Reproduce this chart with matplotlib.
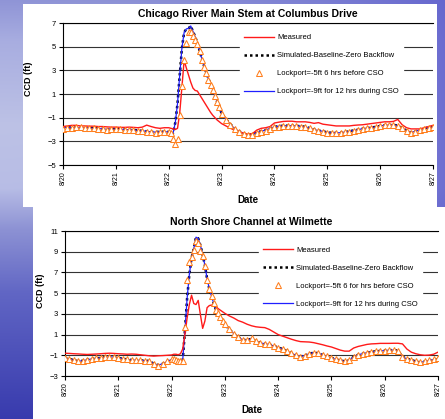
import matplotlib.pyplot as plt
import numpy as np
from matplotlib.patches import Rectangle

plt.rcParams['font.family'] = ['Liberation Sans', 'DejaVu Sans']

# time stamps, hours after 8/20 00:00 (2-hourly, hourly through the 8/22 event)
hours = list(range(0, 48, 2)) + list(range(48, 72)) + list(range(72, 169, 2))
day_labels = ['8/20', '8/21', '8/22', '8/23', '8/24', '8/25', '8/26', '8/27']

# --- Chicago River Main Stem at Columbus Drive ---
chi_measured = [
    -1.75, -1.7, -1.65, -1.65, -1.7, -1.7, -1.72, -1.72, -1.75, -1.75, -1.78, -1.8,
    -1.8, -1.82, -1.82, -1.8, -1.82, -1.85, -1.8, -1.63, -1.75, -1.85, -1.9, -1.85,
    -1.85, -1.9, -1.95, -2.0, -1.9, -0.6, 1.6, 3.85, 3.2, 2.6, 2.0, 1.5,
    1.3, 1.25, 0.95, 0.65, 0.35, 0.05, -0.25, -0.55, -0.8, -1.0, -1.2, -1.35,
    -1.5, -1.7, -1.9, -2.05, -2.2, -2.3, -2.4, -2.35, -2.05, -1.9, -1.85, -1.75,
    -1.45, -1.38, -1.32, -1.3, -1.3, -1.35, -1.35, -1.35, -1.4, -1.48, -1.42, -1.55,
    -1.6, -1.65, -1.7, -1.7, -1.7, -1.7, -1.65, -1.62, -1.6, -1.55, -1.5, -1.45,
    -1.4, -1.35, -1.35, -1.32, -1.15, -1.6, -1.85, -1.95, -1.95, -1.95, -1.85, -1.75,
    -1.65]
chi_baseline = [
    -1.8, -1.82, -1.85, -1.85, -1.85, -1.85, -1.88, -1.9, -1.92, -1.95, -1.98, -1.97,
    -1.97, -1.98, -2.0, -2.02, -2.03, -2.08, -2.12, -2.15, -2.2, -2.22, -2.18, -2.2,
    -2.2, -2.45, -2.3, -1.4, 0.2, 2.6, 4.9, 6.2, 6.5, 6.55, 6.75, 6.3,
    5.85, 5.3, 4.7, 4.0, 3.4, 2.85, 2.3, 1.85, 1.35, 0.85, 0.35, -0.05,
    -0.65, -1.15, -1.55, -1.95, -2.15, -2.35, -2.45, -2.4, -2.25, -2.15, -2.05, -1.9,
    -1.78, -1.72, -1.68, -1.68, -1.68, -1.7, -1.72, -1.78, -1.88, -2.0, -2.1, -2.15,
    -2.25, -2.28, -2.28, -2.27, -2.22, -2.15, -2.08, -2.02, -1.93, -1.88, -1.83, -1.78,
    -1.7, -1.64, -1.63, -1.6, -1.68, -1.88, -2.1, -2.25, -2.15, -2.02, -1.92, -1.82,
    -1.78]
chi_lock5 = [
    -1.95, -1.9, -1.85, -1.82, -1.82, -1.85, -1.88, -1.9, -1.95, -2.0, -2.04, -2.0,
    -1.99, -2.0, -2.02, -2.04, -2.05, -2.1, -2.15, -2.18, -2.25, -2.27, -2.2, -2.22,
    -2.2, -2.3, -2.8, -3.2, -2.8, -0.8, 1.7, 3.9, 5.3, 6.2, 6.2, 5.9,
    5.6, 5.2, 4.6, 3.9, 3.3, 2.8, 2.2, 1.8, 1.3, 0.8, 0.3, -0.1,
    -0.7, -1.2, -1.6, -2.0, -2.2, -2.4, -2.5, -2.45, -2.3, -2.2, -2.1, -1.95,
    -1.8, -1.75, -1.7, -1.7, -1.7, -1.72, -1.75, -1.8, -1.9, -2.05, -2.15, -2.2,
    -2.3, -2.3, -2.3, -2.3, -2.25, -2.2, -2.1, -2.05, -1.95, -1.9, -1.85, -1.8,
    -1.72, -1.65, -1.65, -1.62, -1.7, -1.9, -2.15, -2.3, -2.2, -2.05, -1.95, -1.85,
    -1.8]
chi_lock9 = list(chi_baseline)  # identical to the baseline run in the source chart

# --- North Shore Channel at Wilmette ---
nsc_measured = [
    -0.8, -0.82, -0.85, -0.87, -0.9, -0.92, -0.9, -0.88, -0.85, -0.82, -0.8, -0.82,
    -0.85, -0.87, -0.9, -0.88, -0.9, -0.95, -1.0, -1.05, -1.08, -1.05, -1.03, -1.0,
    -0.97, -0.9, -0.9, -0.95, -0.85, -0.4, 1.0, 2.6, 3.9, 4.8, 4.0, 3.9,
    4.3, 2.9, 1.6, 2.3, 3.6, 3.8, 3.85, 3.8, 3.7, 3.5, 3.35, 3.2,
    3.05, 2.8, 2.6, 2.35, 2.2, 2.0, 1.85, 1.75, 1.7, 1.67, 1.5, 1.25,
    1.0, 0.85, 0.7, 0.55, 0.42, 0.32, 0.3, 0.28, 0.22, 0.12, 0.02, -0.1,
    -0.2, -0.35, -0.5, -0.6, -0.6, -0.3, -0.15, -0.05, 0.05, 0.1, 0.12, 0.15,
    0.15, 0.15, 0.16, 0.16, 0.1, -0.4, -0.7, -0.85, -0.95, -1.0, -0.98, -0.9,
    -0.7]
nsc_baseline = [
    -1.3, -1.35, -1.48, -1.58, -1.53, -1.43, -1.35, -1.3, -1.25, -1.2, -1.15, -1.17,
    -1.25, -1.33, -1.4, -1.45, -1.48, -1.5, -1.52, -1.55, -1.82, -1.95, -1.82, -1.6,
    -1.4, -1.4, -1.5, -1.55, -1.6, -1.5, 1.3, 4.5, 6.8, 8.4, 9.3, 10.4,
    10.3, 9.6, 8.7, 7.7, 6.4, 5.4, 4.7, 4.0, 3.4, 3.1, 2.7, 2.3,
    2.0, 1.5, 1.1, 0.75, 0.5, 0.45, 0.6, 0.35, 0.2, 0.1, 0.05, -0.1,
    -0.25, -0.4, -0.6, -0.8, -1.0, -1.1, -1.05, -0.85, -0.75, -0.8, -0.95, -1.1,
    -1.25, -1.4, -1.5, -1.58, -1.5, -1.15, -0.95, -0.85, -0.75, -0.68, -0.62, -0.58,
    -0.55, -0.5, -0.5, -0.55, -1.15, -1.35, -1.45, -1.6, -1.68, -1.6, -1.5, -1.4,
    -1.4]
nsc_lock5 = [
    -1.29, -1.35, -1.5, -1.6, -1.55, -1.45, -1.36, -1.3, -1.25, -1.2, -1.13, -1.15,
    -1.25, -1.35, -1.4, -1.45, -1.48, -1.5, -1.52, -1.55, -1.85, -2.0, -1.85, -1.6,
    -1.4, -1.4, -1.5, -1.6, -1.55, -1.6, 1.7, 6.3, 8.0, 8.5, 9.2, 10.0,
    9.8, 9.1, 8.6, 7.6, 6.3, 5.4, 4.7, 4.0, 3.4, 3.1, 2.7, 2.3,
    2.0, 1.5, 1.1, 0.75, 0.5, 0.45, 0.65, 0.35, 0.2, 0.1, 0.05, -0.1,
    -0.25, -0.4, -0.6, -0.8, -1.0, -1.13, -1.05, -0.85, -0.75, -0.8, -0.95, -1.1,
    -1.25, -1.4, -1.5, -1.6, -1.5, -1.15, -0.95, -0.85, -0.75, -0.68, -0.62, -0.58,
    -0.55, -0.5, -0.5, -0.55, -1.2, -1.35, -1.45, -1.6, -1.68, -1.6, -1.5, -1.4,
    -1.3]
nsc_lock9 = list(nsc_baseline)

chi_labels = ['Measured', 'Simulated-Baseline-Zero Backflow',
              'Lockport=-5ft 6 hrs before CSO', 'Lockport=-9ft for 12 hrs during CSO']
nsc_labels = ['Measured', 'Simulated-Baseline-Zero Backflow',
              'Lockport=-5ft 6 for hrs before CSO', 'Lockport=-9ft for 12 hrs during CSO']

fig = plt.figure(figsize=(4.45, 4.19), dpi=100)

# slide background (blue water texture approximated by a gradient)
bg = fig.add_axes([0, 0, 1, 1])
H, W = 419, 445
yf = np.linspace(0, 1, H)
stops = [0, 0.1, 0.3, 0.45, 0.55, 0.7, 1.0]
cols = np.array([[0.56, 0.58, 0.84], [0.66, 0.68, 0.88], [0.74, 0.76, 0.90],
                 [0.72, 0.74, 0.90], [0.55, 0.57, 0.83], [0.38, 0.40, 0.77],
                 [0.22, 0.23, 0.68]])
left = np.stack([np.interp(yf, stops, cols[:, i]) for i in range(3)], axis=1)
w = (np.linspace(0, 1, W) ** 2 * 0.8)[None, :, None]
img = left[:, None, :] * (1 - w) + np.array([0.36, 0.36, 0.80])[None, None, :] * w
bg.imshow(img, extent=[0, 1, 0, 1], aspect='auto', origin='upper')
bg.add_patch(Rectangle((22.7 / W, 1 - 207 / H), (437 - 22.7) / W, 203 / H,
                       color='white', lw=0))
bg.add_patch(Rectangle((33 / W, 0), (445 - 33) / W, 1 - 207 / H + 0.001,
                       color='white', lw=0))
bg.set_xlim(0, 1)
bg.set_ylim(0, 1)
bg.axis('off')

days = np.array(hours) / 24.0


def draw_panel(ax, title, measured, baseline, lock5, lock9, labels, ylim, leg_anchor,
               ylab_pos, xlab_pos):
    l1, = ax.plot(days, measured, color='#FF1A1A', lw=1.0, zorder=5)
    l2, = ax.plot(days, baseline, color='black', lw=1.8, ls=(0, (1, 1.2)), zorder=3)
    l4, = ax.plot(days, lock9, color='#1F1FFF', lw=0.9, zorder=4)
    l3, = ax.plot(days, lock5, ls='none', marker='^', ms=4.2, mfc='white',
                  mec='#FF7F1E', mew=0.75, zorder=6)

    ax.set_xlim(0, 7)
    ax.set_ylim(*ylim)
    ax.set_yticks(np.arange(ylim[0], ylim[1] + 1, 2))
    ax.set_xticks(range(8))
    ax.set_xticklabels(day_labels, rotation=90)
    ax.tick_params(axis='y', labelsize=5.5, length=3, width=0.8, pad=2)
    ax.tick_params(axis='x', labelsize=5, length=3, width=0.8, pad=1.5)
    ax.set_axisbelow(True)
    ax.yaxis.grid(True, color='#333333', lw=0.8)
    for s in ['left', 'bottom', 'top']:
        ax.spines[s].set_color('black')
        ax.spines[s].set_linewidth(0.8)
    ax.spines['right'].set_visible(False)
    ax.set_facecolor('white')

    ax.set_title(title, fontsize=7.5, fontweight='bold', pad=4)
    ax.set_xlabel('Date', fontsize=7, fontweight='bold')
    ax.set_ylabel('CCD (ft)', fontsize=6.5, fontweight='bold')
    ax.xaxis.set_label_coords(*xlab_pos)
    ax.yaxis.set_label_coords(*ylab_pos)

    leg = ax.legend([l1, l2, l3, l4], labels, loc='upper left', bbox_to_anchor=leg_anchor,
                    fontsize=5.5, frameon=True, facecolor='white', edgecolor='white',
                    framealpha=1, fancybox=False, handlelength=4.0, handletextpad=0.4,
                    labelspacing=1.4, borderpad=0.5, borderaxespad=0, numpoints=1)
    leg.set_zorder(10)


ax1 = fig.add_axes([63 / W, 1 - 165 / H, 370 / W, 142 / H])
draw_panel(ax1, 'Chicago River Main Stem at Columbus Drive', chi_measured, chi_baseline,
           chi_lock5, chi_lock9, chi_labels, (-5, 7), (0.478, 0.95),
           (-0.081, 0.61), (0.5, -0.21))

ax2 = fig.add_axes([65 / W, 1 - 376 / H, 373 / W, 145 / H])
draw_panel(ax2, 'North Shore Channel at Wilmette', nsc_measured, nsc_baseline,
           nsc_lock5, nsc_lock9, nsc_labels, (-3, 11), (0.52, 0.92),
           (-0.054, 0.59), (0.5, -0.2))

fig.savefig('out.png', dpi=100)
